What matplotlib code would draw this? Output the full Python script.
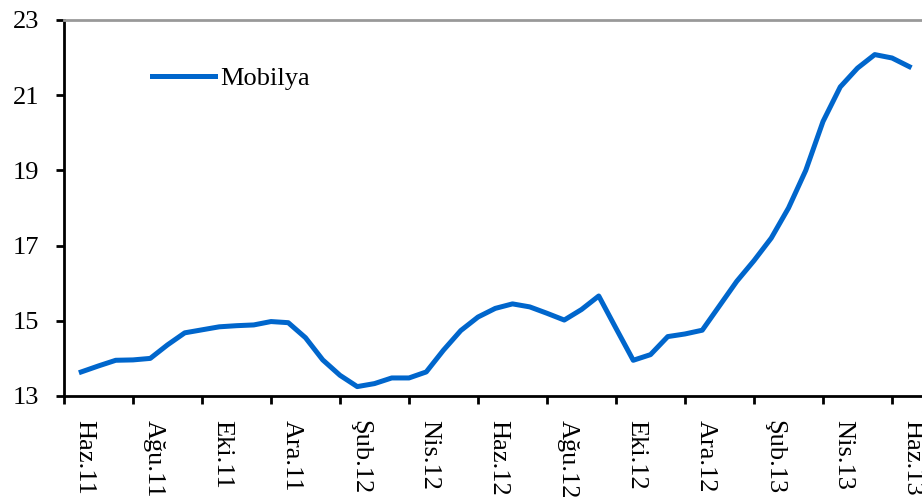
import numpy as np
from matplotlib import pyplot as plt

# half-month readings, Haz.11 .. Haz.13
mobilya = [13.64, 13.80, 13.95, 13.96, 14.00, 14.36, 14.68, 14.76, 14.84, 14.87,
           14.89, 14.98, 14.95, 14.55, 13.96, 13.55, 13.25, 13.33, 13.48, 13.48,
           13.64, 14.22, 14.74, 15.10, 15.33, 15.45, 15.37, 15.20, 15.02, 15.30,
           15.66, 14.80, 13.95, 14.10, 14.58, 14.65, 14.75, 15.40, 16.05, 16.60,
           17.20, 18.00, 19.00, 20.30, 21.22, 21.72, 22.08, 21.99, 21.76]
etiketler = ["Haz.11", "Ağu.11", "Eki.11", "Ara.11", "Şub.12", "Nis.12", "Haz.12",
             "Ağu.12", "Eki.12", "Ara.12", "Şub.13", "Nis.13", "Haz.13"]
y_ticks = [13, 15, 17, 19, 21, 23]

plt.rcParams['font.family'] = ['Liberation Serif', 'DejaVu Serif']

ay = np.arange(len(mobilya)) / 2.0

fig = plt.figure(figsize=(9.22, 5.04), dpi=100)
ax = fig.add_axes([64/922, 108/504, 862.5/922, 376/504])

ax.plot(ay, mobilya, color='#0066CC', linewidth=3.6, label='Mobilya',
        solid_joinstyle='round')

ax.set_xlim(-0.5, 24.5)
ax.set_ylim(13, 23)
ax.set_yticks(y_ticks)
ax.set_xticks(np.arange(-0.5, 24, 2))
ax.set_xticklabels([])
ax.set_xticks(np.arange(0, 25, 2) + 0.1, minor=True)
ax.set_xticklabels(etiketler, minor=True, rotation=-90, fontsize=19,
                   va='top', ha='center')
ax.tick_params(axis='x', which='minor', length=0, pad=17)
ax.tick_params(axis='x', which='major', direction='out', length=6, width=2)
ax.tick_params(axis='y', direction='out', length=6, width=2, labelsize=19, pad=12)

ax.spines['right'].set_visible(False)
ax.spines['top'].set_color('#999999')
ax.spines['top'].set_linewidth(2)
ax.spines['left'].set_linewidth(2)
ax.spines['bottom'].set_linewidth(2)

ax.legend(loc='center left', bbox_to_anchor=(77/862.5, 1 - 58/376), frameon=False,
          fontsize=19, handlelength=2.4, handletextpad=0.2, borderaxespad=0)

fig.savefig('out.png', dpi=100)
